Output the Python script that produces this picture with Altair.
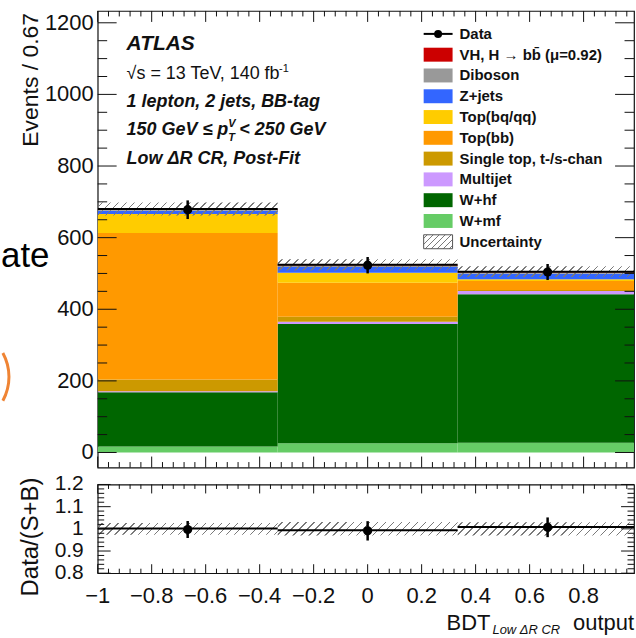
import altair as alt
import numpy as np
import pandas as pd

# ---------------- binning of the BDT output ----------------
bin_lo = [-1.0, -1 / 3, 1 / 3]
bin_hi = [-1 / 3, 1 / 3, 1.0]
bin_mid = [-2 / 3, 0.0, 2 / 3]

# ---------------- post-fit yields per bin (bottom of stack first) ----------------
wmf = [17, 26, 27]
whf = [151, 333, 415]
multijet = [3, 6, 9]
single_top = [33, 14, 3]
top_bb = [409, 95, 25]
top_bq = [53, 28, 5]
zjets = [9, 16, 15]
diboson = [3, 4, 4]
vh = [2, 2, 2]

stack_names = ["W+mf", "W+hf", "Multijet", "Single top, t-/s-chan", "Top(bb)",
               "Top(bq/qq)", "Z+jets", "Diboson", "VH"]
stack_colors = ["#66cc66", "#006600", "#cc99ff", "#cc9900", "#ff9900",
                "#ffcc00", "#3366ff", "#999999", "#cc0000"]
stack_yields = [wmf, whf, multijet, single_top, top_bb, top_bq, zjets, diboson, vh]

uncertainty = [18, 16, 15]
data_counts = [678, 523, 504]

# ratio panel
ratio_data = [0.997, 0.991, 1.007]
ratio_line = [1.002, 0.994, 1.008]

legend_labels = ["Data", "VH, H \u2192 bb\u0304 (\u03bc=0.92)", "Diboson", "Z+jets", "Top(bq/qq)",
                 "Top(bb)", "Single top, t-/s-chan", "Multijet", "W+hf", "W+mf", "Uncertainty"]
legend_colors = [None, "#cc0000", "#999999", "#3366ff", "#ffcc00", "#ff9900",
                 "#cc9900", "#cc99ff", "#006600", "#66cc66", None]

# tick positions
x_major = [-1.0, -0.8, -0.6, -0.4, -0.2, 0.0, 0.2, 0.4, 0.6, 0.8]
x_minor = [v for v in np.round(np.arange(-1.0, 0.985, 0.04), 2) if round(v / 0.2, 6) % 1 != 0]
y_major = [0, 200, 400, 600, 800, 1000, 1200]
y_minor = [v for v in range(0, 1201, 50) if v % 200 != 0]
r_major = [0.8, 0.9, 1.0, 1.1, 1.2]
r_minor = [v for v in np.round(np.arange(0.8, 1.2001, 0.02), 2) if round(v * 10, 6) % 1 != 0]

# ---------------- layout ----------------
W = 538
HM = 458
HR = 89
XDOM = [-1.0, -1.0 + W / 270.8]
YDOM = [-42, 1233]
RDOM = [0.8, 1.2]
px_x = W / (XDOM[1] - XDOM[0])
px_y = HM / (YDOM[1] - YDOM[0])
px_r = HR / (RDOM[1] - RDOM[0])

FONT = "Liberation Sans"
INK = "#111111"

xs = alt.Scale(domain=XDOM, nice=False, zero=False)
ys = alt.Scale(domain=YDOM, nice=False, zero=False)
rs = alt.Scale(domain=RDOM, nice=False, zero=False)

ONE = pd.DataFrame({"k": [0]})


def fmt(v):
    return f"{v:g}".replace("-", "\u2212")


def hatch_fill(w, h, spacing=8.0, lw=1.5, color="#7a7a7a"):
    """Diagonal '/' hatching as a striped linear gradient over a w x h box."""
    k = (w + h) / (w * w + h * h)
    L = w + h
    clear = "rgba(255,255,255,0)"
    stops = [{"offset": 0, "color": clear}]
    pos = spacing / 2
    while pos < L:
        a = pos / L
        b = min((pos + lw) / L, 1.0)
        stops += [{"offset": a, "color": clear}, {"offset": a, "color": color},
                  {"offset": b, "color": color}, {"offset": b, "color": clear}]
        pos += spacing
    stops.append({"offset": 1, "color": clear})
    return {"gradient": "linear", "x1": 0, "y1": 0, "x2": w * k, "y2": h * k, "stops": stops}


def text(t, x, y, size, weight="normal", style="normal", align="left",
         baseline="alphabetic", color=INK, angle=None, font=FONT):
    kw = dict(text=t, fontSize=size, fontWeight=weight, fontStyle=style, align=align,
              baseline=baseline, color=color, font=font)
    if angle is not None:
        kw["angle"] = angle
    return alt.Chart(ONE).mark_text(**kw).encode(x=alt.value(x), y=alt.value(y))


def tick_layers(ymaj, ymin, yscale, h, xlen, ylen):
    layers = []
    for vals, L in ((x_major, xlen), (x_minor, xlen / 2)):
        df = pd.DataFrame({"v": vals})
        for y0, y1 in ((h, h - L), (0, L)):
            layers.append(alt.Chart(df).mark_rule(color=INK, strokeWidth=1).encode(
                x=alt.X("v:Q", scale=xs, axis=None), y=alt.value(y0), y2=alt.value(y1)))
    for vals, L in ((ymaj, ylen), (ymin, ylen / 2)):
        df = pd.DataFrame({"v": vals})
        for x0, x1 in ((0, L), (W, W - L)):
            layers.append(alt.Chart(df).mark_rule(color=INK, strokeWidth=1).encode(
                y=alt.Y("v:Q", scale=yscale, axis=None), x=alt.value(x0), x2=alt.value(x1)))
    return layers


def y_labels(vals, yscale, pad, size):
    df = pd.DataFrame({"v": vals, "s": [fmt(v) for v in vals]})
    return alt.Chart(df).mark_text(align="right", baseline="middle", fontSize=size, font=FONT,
                                   color=INK).encode(
        y=alt.Y("v:Q", scale=yscale, axis=None), x=alt.value(-pad), text="s:N")


def x_labels(vals, h, pad, size):
    df = pd.DataFrame({"v": vals, "s": [fmt(v) for v in vals]})
    return alt.Chart(df).mark_text(align="center", baseline="top", fontSize=size, font=FONT,
                                   color=INK).encode(
        x=alt.X("v:Q", scale=xs, axis=None), y=alt.value(h + pad), text="s:N")


# ---------------- tables ----------------
rows = []
for name, vals in zip(stack_names, stack_yields):
    for i in range(3):
        rows.append({"process": name, "bin": i, "lo": bin_lo[i], "hi": bin_hi[i], "n": vals[i]})
stack_df = pd.DataFrame(rows)
stack_df["y1"] = stack_df.groupby("bin")["n"].cumsum()
stack_df["y0"] = stack_df["y1"] - stack_df["n"]

bins = pd.DataFrame({"lo": bin_lo, "hi": bin_hi, "mid": bin_mid,
                     "data": data_counts, "unc": uncertainty})
bins["total"] = stack_df.groupby("bin")["n"].sum().values
bins["ulo"] = bins["total"] - bins["unc"]
bins["uhi"] = bins["total"] + bins["unc"]
bins["dlo"] = bins["data"] - np.sqrt(bins["data"])
bins["dhi"] = bins["data"] + np.sqrt(bins["data"])
bins["ratio"] = ratio_data
bins["rline"] = ratio_line
bins["rerr"] = np.sqrt(bins["data"]) / bins["total"]
bins["rlo"] = bins["ratio"] - bins["rerr"]
bins["rhi"] = bins["ratio"] + bins["rerr"]
bins["band"] = bins["unc"] / bins["total"]
bins["blo"] = 1 - bins["band"]
bins["bhi"] = 1 + bins["band"]

# ---------------- main panel ----------------
main_layers = []
main_layers.append(alt.Chart(stack_df).mark_rect(clip=True).encode(
    x=alt.X("lo:Q", scale=xs, axis=None), x2="hi",
    y=alt.Y("y0:Q", scale=ys, axis=None), y2="y1",
    color=alt.Color("process:N", scale=alt.Scale(domain=stack_names, range=stack_colors), legend=None),
))
for i in range(3):
    w_px = (bin_hi[i] - bin_lo[i]) * px_x
    h_px = 2 * uncertainty[i] * px_y
    main_layers.append(alt.Chart(bins.iloc[[i]]).mark_rect(fill=hatch_fill(w_px, h_px), clip=True).encode(
        x=alt.X("lo:Q", scale=xs, axis=None), x2="hi",
        y=alt.Y("ulo:Q", scale=ys, axis=None), y2="uhi"))
main_layers.append(alt.Chart(bins).mark_rule(color="black", strokeWidth=2, clip=True).encode(
    x=alt.X("lo:Q", scale=xs, axis=None), x2="hi", y=alt.Y("total:Q", scale=ys, axis=None)))
main_layers.append(alt.Chart(bins).mark_rule(color="black", strokeWidth=2.5).encode(
    x=alt.X("mid:Q", scale=xs, axis=None), y=alt.Y("dlo:Q", scale=ys, axis=None), y2="dhi"))
main_layers.append(alt.Chart(bins).mark_circle(color="black", size=85, opacity=1).encode(
    x=alt.X("mid:Q", scale=xs, axis=None), y=alt.Y("data:Q", scale=ys, axis=None)))
main_layers += tick_layers(y_major, y_minor, ys, HM, 11, 19)
main_layers.append(y_labels(y_major, ys, 4, 22))

# labels inside the frame
main_layers += [
    text("ATLAS", 29, 39, 21, weight="bold", style="italic"),
    text("\u221as = 13 TeV, 140 fb", 29, 68, 18),
    text("-1", 182, 61, 11),
    text("1 lepton, 2 jets, BB-tag", 29, 96, 18, weight="bold", style="italic"),
    text("150 GeV \u2264 p", 29, 124, 18, weight="bold", style="italic"),
    text("V", 131, 116, 11, weight="bold", style="italic"),
    text("T", 131, 130, 11, weight="bold", style="italic"),
    text("< 250 GeV", 142, 124, 18, weight="bold", style="italic"),
    text("Low \u0394R CR, Post-Fit", 29, 154, 18, weight="bold", style="italic"),
]

# legend
LX0, LX1, LT = 327, 356, 363
for i, (lab, col) in enumerate(zip(legend_labels, legend_colors)):
    yc = 23 + 20.85 * i
    if lab == "Data":
        main_layers.append(alt.Chart(ONE).mark_rule(color="black", strokeWidth=2).encode(
            x=alt.value(LX0), x2=alt.value(LX1), y=alt.value(yc)))
        main_layers.append(alt.Chart(ONE).mark_circle(color="black", size=64, opacity=1).encode(
            x=alt.value((LX0 + LX1) / 2), y=alt.value(yc)))
    elif lab == "Uncertainty":
        main_layers.append(alt.Chart(ONE).mark_rect(fill=hatch_fill(LX1 - LX0, 14, spacing=6, lw=1.3),
                                                    stroke="#555555", strokeWidth=1).encode(
            x=alt.value(LX0), x2=alt.value(LX1), y=alt.value(yc - 7), y2=alt.value(yc + 7)))
    else:
        main_layers.append(alt.Chart(ONE).mark_rect(color=col).encode(
            x=alt.value(LX0), x2=alt.value(LX1), y=alt.value(yc - 7), y2=alt.value(yc + 7)))
    main_layers.append(text(lab, LT, yc, 15, weight="bold", baseline="middle"))

# y-axis title and the slide fragments on the left
main_layers.append(text("Events / 0.67", -60, 2, 23, align="right", angle=270))
main_layers.append(text("ate", -97, 257, 35, color="#000000"))
main_layers.append(alt.Chart(ONE).mark_arc(theta=1.0708, theta2=2.0708, radius=51.5, radius2=48.5,
                                           color="#ef8434").encode(x=alt.value(-139), y=alt.value(367)))

main = alt.layer(*main_layers).properties(width=W, height=HM)

# ---------------- ratio panel ----------------
ratio_layers = []
for i in range(3):
    w_px = (bin_hi[i] - bin_lo[i]) * px_x
    h_px = 2 * bins["band"].iloc[i] * px_r
    ratio_layers.append(alt.Chart(bins.iloc[[i]]).mark_rect(fill=hatch_fill(w_px, h_px), clip=True).encode(
        x=alt.X("lo:Q", scale=xs, axis=None), x2="hi",
        y=alt.Y("blo:Q", scale=rs, axis=None), y2="bhi"))
ratio_layers.append(alt.Chart(bins).mark_rule(color="black", strokeWidth=2, clip=True).encode(
    x=alt.X("lo:Q", scale=xs, axis=None), x2="hi", y=alt.Y("rline:Q", scale=rs, axis=None)))
ratio_layers.append(alt.Chart(bins).mark_rule(color="black", strokeWidth=2.5).encode(
    x=alt.X("mid:Q", scale=xs, axis=None), y=alt.Y("rlo:Q", scale=rs, axis=None), y2="rhi"))
ratio_layers.append(alt.Chart(bins).mark_circle(color="black", size=85, opacity=1).encode(
    x=alt.X("mid:Q", scale=xs, axis=None), y=alt.Y("ratio:Q", scale=rs, axis=None)))
ratio_layers += tick_layers(r_major, r_minor, rs, HR, 9, 13)
ratio_layers.append(y_labels(r_major, rs, 14, 21))
ratio_layers.append(x_labels(x_major, HR, 13, 22))
ratio_layers += [
    text("Data/(S+B)", -60, -7, 24, align="right", angle=270),
    text("BDT", 350, 146, 22),
    text("Low \u0394R CR", 396, 150, 13, style="italic"),
    text("output", W, 146, 22, align="right"),
]
ratio = alt.layer(*ratio_layers).properties(width=W, height=HR)

chart = alt.vconcat(main, ratio, spacing=17, bounds="flush").properties(
    padding={"left": 0, "top": 8, "right": 0, "bottom": 0},
    background="white",
).configure_view(stroke="#111111", strokeWidth=1.2)

chart.save("out.html", embed_options={"renderer": "svg", "actions": False})
